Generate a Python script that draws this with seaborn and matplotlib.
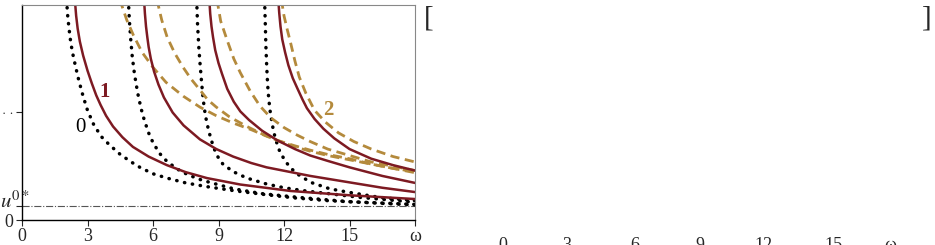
import numpy as np
import pandas as pd
import matplotlib
matplotlib.use("Agg")
import matplotlib.pyplot as plt
import seaborn as sns

# family 0 (black dotted)
d1_w = [2.04, 2.1, 2.2, 2.3, 2.45, 2.6, 2.8, 3.0, 3.3, 3.66, 4.0, 4.5, 5.0, 5.4, 6.0, 6.64, 7.5, 8.47, 9.8, 11.2, 12.5, 14.0, 16.0, 18.0]
d1_u = [2.05, 1.88, 1.70, 1.57, 1.43, 1.30, 1.15, 1.02, 0.88, 0.77, 0.70, 0.61, 0.54, 0.49, 0.43, 0.39, 0.345, 0.31, 0.27, 0.235, 0.205, 0.18, 0.16, 0.14]
d2_w = [4.87, 4.92, 4.98, 5.05, 5.15, 5.3, 5.45, 5.6, 5.8, 6.0, 6.3, 6.64, 7.1, 7.56, 8.1, 8.6, 9.7, 11.0, 12.7, 15.0, 18.0]
d2_u = [2.05, 1.85, 1.68, 1.52, 1.36, 1.18, 1.04, 0.93, 0.81, 0.72, 0.62, 0.545, 0.475, 0.425, 0.38, 0.35, 0.29, 0.245, 0.21, 0.17, 0.145]
d3_w = [8.0, 8.04, 8.1, 8.16, 8.23, 8.3, 8.4, 8.55, 8.75, 8.93, 9.2, 9.67, 10.3, 11.2, 12.0, 13.0, 15.5, 18.0]
d3_u = [2.05, 1.82, 1.60, 1.44, 1.27, 1.12, 0.97, 0.83, 0.69, 0.60, 0.52, 0.45, 0.39, 0.335, 0.30, 0.27, 0.21, 0.165]
d4_w = [11.11, 11.14, 11.17, 11.21, 11.25, 11.3, 11.36, 11.43, 11.5, 11.6, 11.8, 12.05, 12.3, 12.6, 12.9, 13.3, 14.1, 14.9, 16.4, 18.0]
d4_u = [2.05, 1.85, 1.62, 1.42, 1.26, 1.13, 1.02, 0.93, 0.85, 0.76, 0.64, 0.55, 0.485, 0.43, 0.39, 0.345, 0.29, 0.26, 0.21, 0.18]

# family 1 (red solid)
s1_w = [2.42, 2.48, 2.55, 2.65, 2.8, 3.0, 3.2, 3.4, 3.6, 3.85, 4.17, 4.6, 5.08, 5.8, 6.64, 7.5, 8.47, 10.0, 12.3, 15.0, 18.0]
s1_u = [2.05, 1.90, 1.78, 1.66, 1.53, 1.39, 1.27, 1.16, 1.07, 0.97, 0.87, 0.77, 0.68, 0.59, 0.51, 0.445, 0.39, 0.33, 0.27, 0.23, 0.195]
s2_w = [5.59, 5.63, 5.68, 5.74, 5.8, 5.9, 6.05, 6.25, 6.5, 6.9, 7.4, 8.15, 8.9, 9.67, 10.5, 11.2, 12.2, 13.2, 15.0, 16.5, 18.0]
s2_u = [2.05, 1.92, 1.80, 1.70, 1.61, 1.50, 1.38, 1.26, 1.14, 1.00, 0.88, 0.75, 0.66, 0.59, 0.53, 0.49, 0.45, 0.41, 0.35, 0.30, 0.26]
s3_w = [8.58, 8.62, 8.68, 8.75, 8.85, 9.0, 9.16, 9.4, 9.7, 10.0, 10.4, 11.0, 11.7, 12.5, 13.2, 14.0, 15.0, 16.5, 18.0]
s3_u = [2.05, 1.92, 1.80, 1.70, 1.58, 1.46, 1.36, 1.22, 1.10, 1.01, 0.93, 0.83, 0.74, 0.66, 0.60, 0.55, 0.49, 0.41, 0.345]
s4_w = [11.74, 11.78, 11.84, 11.92, 12.05, 12.2, 12.4, 12.6, 12.85, 13.05, 13.4, 13.8, 14.3, 15.0, 16.0, 17.0, 18.0]
s4_u = [2.05, 1.93, 1.80, 1.68, 1.56, 1.44, 1.32, 1.23, 1.12, 1.04, 0.94, 0.85, 0.76, 0.66, 0.57, 0.51, 0.46]

# family 2 (gold dashed)
g1_w = [4.48, 4.8, 5.1, 5.5, 6.0, 6.6, 7.4, 8.15, 8.9, 9.7, 10.5, 11.2, 11.7, 12.5, 13.2, 14.0, 15.0, 16.0, 17.0, 18.0]
g1_u = [2.05, 1.86, 1.72, 1.56, 1.42, 1.28, 1.15, 1.05, 0.97, 0.90, 0.84, 0.78, 0.74, 0.69, 0.65, 0.61, 0.57, 0.52, 0.48, 0.44]
g2_w = [6.18, 6.4, 6.65, 7.0, 7.38, 7.75, 8.15, 8.5, 8.9, 9.5, 10.3, 11.0, 11.7, 12.5, 13.2, 14.0, 15.0, 16.0, 17.0, 18.0]
g2_u = [2.05, 1.86, 1.70, 1.55, 1.42, 1.31, 1.21, 1.12, 1.05, 0.96, 0.87, 0.80, 0.74, 0.68, 0.64, 0.60, 0.56, 0.52, 0.48, 0.45]
g3_w = [8.93, 9.1, 9.4, 9.7, 10.0, 10.45, 10.9, 11.4, 12.0, 12.6, 13.2, 14.0, 15.0, 16.0, 17.0, 18.0]
g3_u = [2.05, 1.85, 1.67, 1.50, 1.37, 1.20, 1.06, 0.95, 0.86, 0.79, 0.73, 0.66, 0.60, 0.54, 0.50, 0.46]
g4_w = [11.88, 12.0, 12.15, 12.3, 12.5, 12.7, 13.0, 13.4, 13.9, 14.5, 15.2, 16.0, 17.0, 18.0]
g4_u = [2.05, 1.90, 1.77, 1.65, 1.48, 1.33, 1.18, 1.02, 0.91, 0.81, 0.73, 0.66, 0.59, 0.54]

u0_star = 0.133
x_ticks = [0, 3, 6, 9, 12, 15, 18]
x_labels = ['0', '3', '6', '9', '12', '15', 'ω']
y_ticks = [0, u0_star, 1]
y_labels = ['0', '', '· ·']

RED = '#7d1a22'
GOLD = '#b48a3c'

sns.set_style('ticks')
plt.rcParams['font.family'] = ['Liberation Serif', 'DejaVu Serif']
plt.rcParams['mathtext.fontset'] = 'stix'

fig = plt.figure(figsize=(9.35, 2.45), dpi=100)
ax = fig.add_axes([22 / 935, 1 - 220 / 245, 393 / 935, 215 / 245])

ax.axhline(u0_star, color='#555555', lw=0.8, ls='-.')

for w, u in [(d1_w, d1_u), (d2_w, d2_u), (d3_w, d3_u), (d4_w, d4_u)]:
    sns.lineplot(x=w, y=u, ax=ax, color='black', lw=2.5, linestyle=(0, (0.1, 2.2)),
                 dash_capstyle='round', sort=False, estimator=None)
for w, u in [(g1_w, g1_u), (g2_w, g2_u), (g3_w, g3_u), (g4_w, g4_u)]:
    sns.lineplot(x=w, y=u, ax=ax, color=GOLD, lw=2.0, linestyle=(0, (3.3, 2)),
                 sort=False, estimator=None)
for w, u in [(s1_w, s1_u), (s2_w, s2_u), (s3_w, s3_u), (s4_w, s4_u)]:
    sns.lineplot(x=w, y=u, ax=ax, color=RED, lw=1.8, sort=False, estimator=None)

ax.text(3.8, 1.19, '1', color=RED, fontsize=15, fontweight='bold', ha='center', va='center')
ax.text(2.66, 0.86, '0', color='black', fontsize=15, ha='center', va='center')
ax.text(14.05, 1.02, '2', color=GOLD, fontsize=15, fontweight='bold', ha='center', va='center')
ax.text(-22 / 393, u0_star + 0.03, r'$u^{0*}$', transform=ax.get_yaxis_transform(),
        fontsize=15, ha='left', va='center')

ax.set_xlim(0, 18)
ax.set_ylim(0, 2)
ax.set_xticks(x_ticks)
ax.set_xticklabels(x_labels, fontsize=13)
ax.set_yticks(y_ticks)
ax.set_yticklabels(y_labels, fontsize=13)
ax.get_yticklabels()[2].set_fontsize(9)
ax.tick_params(axis='x', length=4, width=0.8, pad=2)
ax.tick_params(axis='y', length=4, width=0.8, pad=2)
for side in ['left', 'bottom']:
    ax.spines[side].set_color('black')
    ax.spines[side].set_linewidth(1.0)
for side in ['top', 'right']:
    ax.spines[side].set_color('#888888')
    ax.spines[side].set_linewidth(0.8)
ax.set_xlabel('')
ax.set_ylabel('')

# second panel, cut off in the reference
fig.text(424 / 935, 1 - 18 / 245, '[', fontsize=21, ha='left', va='center')
fig.text(932 / 935, 1 - 18 / 245, ']', fontsize=21, ha='right', va='center')
right_x = [503, 567, 635, 700, 763, 833, 890]
for px, lab in zip(right_x, x_labels):
    fig.text(px / 935, 1 - 250 / 245, lab, fontsize=13, ha='center', va='baseline')

fig.savefig('out.png', dpi=100)
